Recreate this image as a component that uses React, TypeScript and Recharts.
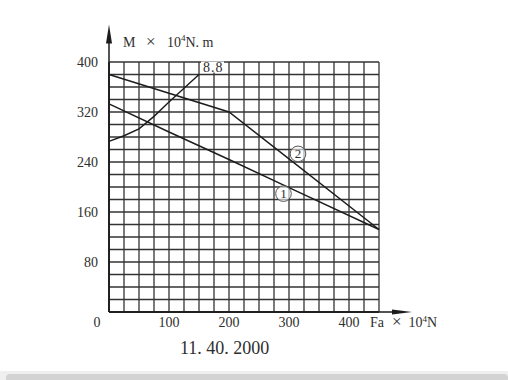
import React from "react";
import {
  LineChart,
  Line,
  XAxis,
  YAxis,
  CartesianGrid,
  ReferenceLine,
  LabelList,
  Label,
} from "recharts";

// Fa (x 10^4 N) / M (x 10^4 N.m)
const fa1 = [0, 100, 200, 300, 450];
const m1 = [333, 288, 244, 199, 132];

const fa2 = [0, 200, 300, 450];
const m2 = [380, 320, 245, 132];

const fa88 = [0, 25, 50, 75, 100, 125, 150];
const m88 = [273, 282, 293, 313, 336, 358, 380];

const xLabels = [100, 200, 300, 400];
const yLabels = [80, 160, 240, 320, 400];

const xGrid = Array.from({ length: 19 }, (_, i) => i * 25);
const yGrid = Array.from({ length: 21 }, (_, i) => i * 20);

const series1 = fa1.map((fa, i) => ({ fa, m: m1[i] }));
const series2 = fa2.map((fa, i) => ({ fa, m: m2[i] }));
const series88 = fa88.map((fa, i) => ({ fa, m: m88[i] }));

const FONT = "'Liberation Serif', 'DejaVu Serif', serif";
const INK = "#1c1c1c";
const TXT = "#2e2e2e";

function XTick(props: any) {
  const { x, y, payload } = props;
  const v = payload.value;
  const base = y + 10;
  if (v === 0) {
    return (
      <text x={x - 12} y={base} textAnchor="middle" fontSize={14} fill={TXT} fontFamily={FONT}>
        0
      </text>
    );
  }
  if (v === 450) {
    return (
      <text x={x - 9} y={base} textAnchor="start" fontSize={14} fill={TXT} fontFamily={FONT}>
        <tspan>Fa</tspan>
        <tspan dx={8} fontSize={17}>×</tspan>
        <tspan dx={7}>10</tspan>
        <tspan dy={-5} fontSize={9}>4</tspan>
        <tspan dy={5}>N</tspan>
      </text>
    );
  }
  if (!xLabels.includes(v)) return null;
  return (
    <text x={x} y={base} textAnchor="middle" fontSize={14} fill={TXT} fontFamily={FONT}>
      {v}
    </text>
  );
}

function YTick(props: any) {
  const { x, y, payload } = props;
  if (!yLabels.includes(payload.value)) return null;
  return (
    <text x={x} y={y + 4.5} textAnchor="end" fontSize={14} fill={TXT} fontFamily={FONT}>
      {payload.value}
    </text>
  );
}

function YTitle(props: any) {
  const { viewBox } = props;
  const x0 = viewBox.x + viewBox.width;
  const y0 = viewBox.y - 15;
  return (
    <text y={y0} fontSize={14} fill={TXT} fontFamily={FONT}>
      <tspan x={x0 + 14}>M</tspan>
      <tspan x={x0 + 37} fontSize={17}>×</tspan>
      <tspan x={x0 + 58}>10</tspan>
      <tspan dy={-6} fontSize={9}>4</tspan>
      <tspan dy={6}>N. m</tspan>
    </text>
  );
}

const upArrow = (p: any) => {
  const { x1, y1, x2, y2 } = p;
  return (
    <g>
      <line x1={x1} y1={y1} x2={x2} y2={y2 + 10} stroke={INK} strokeWidth={1.5} />
      <polygon points={`${x2},${y2} ${x2 - 3},${y2 + 19} ${x2 + 3},${y2 + 19}`} fill={INK} />
    </g>
  );
};

const rightArrow = (p: any) => {
  const { x1, y1, x2, y2 } = p;
  return (
    <g>
      <line x1={x1} y1={y1} x2={x2 - 10} y2={y2} stroke={INK} strokeWidth={1.5} />
      <polygon points={`${x2},${y2} ${x2 - 20},${y2 - 2.5} ${x2 - 20},${y2 + 2.5}`} fill={INK} />
    </g>
  );
};

function Circled(dx: number, dy: number, digit: string, at: number) {
  return (props: any) => {
    const { x, y, index } = props;
    if (index !== at) return null;
    const cx = x + dx;
    const cy = y + dy;
    return (
      <g>
        <circle cx={cx} cy={cy} r={7.8} fill="#fff" fillOpacity={0.6} stroke="#555" strokeWidth={1} />
        <text x={cx} y={cy + 4.5} textAnchor="middle" fontSize={13} fill={TXT} fontFamily={FONT}>
          {digit}
        </text>
      </g>
    );
  };
}

function EndLabel(props: any) {
  const { x, y, index } = props;
  if (index !== fa88.length - 1) return null;
  return (
    <g>
      <rect x={x + 2} y={y - 13} width={23} height={11} fill="#fff" />
      <text x={x + 4} y={y - 3} fontSize={14} fill={TXT} fontFamily={FONT} letterSpacing={1}>
        8.8
      </text>
    </g>
  );
}

export default function App() {
  return (
    <div
      style={{
        position: "fixed",
        left: 0,
        top: 0,
        width: 508,
        height: 380,
        background: "#fff",
        overflow: "hidden",
      }}
    >
      <LineChart width={508} height={380} margin={{ top: 62, right: 129, bottom: 38, left: 69 }}>
        <CartesianGrid stroke="#333" strokeWidth={1.3} />
        <XAxis
          type="number"
          dataKey="fa"
          domain={[0, 450]}
          ticks={xGrid}
          interval={0}
          height={30}
          tickSize={0}
          tickMargin={5}
          tickLine={false}
          axisLine={{ stroke: INK, strokeWidth: 1.5 }}
          tick={<XTick />}
          allowDuplicatedCategory={false}
        />
        <YAxis
          type="number"
          dataKey="m"
          domain={[0, 400]}
          ticks={yGrid}
          interval={0}
          width={40}
          tickSize={0}
          tickMargin={11}
          tickLine={false}
          axisLine={{ stroke: INK, strokeWidth: 1.5 }}
          tick={<YTick />}
        >
          <Label content={<YTitle />} />
        </YAxis>
        <ReferenceLine
          segment={[{ x: 0, y: 0 }, { x: 0, y: 460 }]}
          ifOverflow="visible"
          shape={upArrow}
        />
        <ReferenceLine
          segment={[{ x: 0, y: 0 }, { x: 505, y: 0 }]}
          ifOverflow="visible"
          shape={rightArrow}
        />
        <Line
          data={series1}
          dataKey="m"
          type="linear"
          stroke={INK}
          strokeWidth={1.4}
          dot={false}
          isAnimationActive={false}
        >
          <LabelList dataKey="m" content={Circled(-5.5, 6, "1", 3)} />
        </Line>
        <Line
          data={series2}
          dataKey="m"
          type="linear"
          stroke={INK}
          strokeWidth={1.4}
          dot={false}
          isAnimationActive={false}
        >
          <LabelList dataKey="m" content={Circled(9, -5, "2", 2)} />
        </Line>
        <Line
          data={series88}
          dataKey="m"
          type="linear"
          stroke={INK}
          strokeWidth={1.4}
          dot={false}
          isAnimationActive={false}
        >
          <LabelList dataKey="m" content={EndLabel} />
        </Line>
      </LineChart>
      <div
        style={{
          position: "absolute",
          left: 180,
          top: 338,
          fontFamily: FONT,
          fontSize: 18,
          color: TXT,
          whiteSpace: "pre",
        }}
      >
        11. 40. 2000
      </div>
      <div
        style={{
          position: "absolute",
          left: 0,
          right: 0,
          top: 371,
          height: 9,
          background: "#efefef",
        }}
      />
      <div
        style={{
          position: "absolute",
          left: 6,
          right: 0,
          top: 374,
          height: 10,
          background: "#d3d3d3",
          borderRadius: 4,
        }}
      />
    </div>
  );
}
